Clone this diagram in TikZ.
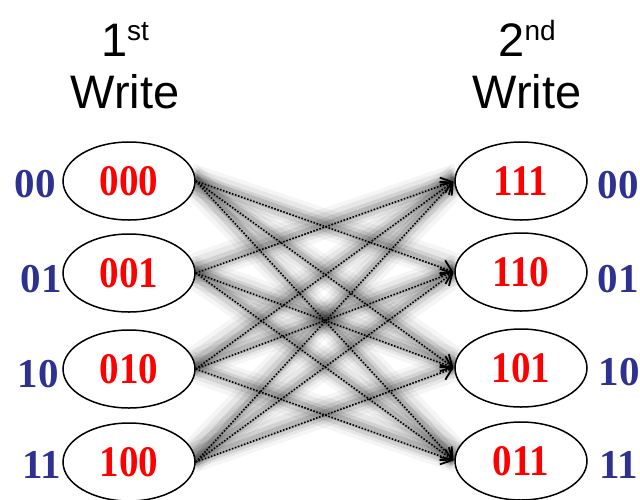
\documentclass[tikz,border=0pt]{standalone}
\usepackage{fontspec}
\setmainfont{Liberation Serif}
\newfontfamily\arialf{Liberation Sans}
\usetikzlibrary{arrows.meta,shapes.geometric}
\definecolor{codered}{RGB}{255,0,0}
\definecolor{datablue}{RGB}{46,49,146}
\newcommand{\tallred}[1]{\scalebox{1}[1.12]{#1}}
\tikzset{
  cell/.style={ellipse, draw=black, line width=1.5pt, fill=white, minimum width=132pt, minimum height=78pt, inner sep=0pt,
    text=codered, font=\fontsize{39}{40}\selectfont\bfseries},
  datalbl/.style={anchor=base, text=datablue, font=\fontsize{41}{42}\selectfont\bfseries, inner sep=0pt},
  title/.style={anchor=base, font=\arialf\fontsize{47}{50}\selectfont, inner sep=0pt},
  link/.style={line width=1.6pt, dash pattern=on 1.6pt off 1.6pt, black, -{Straight Barb[length=10pt,width=16pt,line width=1.8pt]}, shorten >=1pt},
  shadeA/.style={line width=30pt, black, opacity=0.04},
  shadeB/.style={line width=22pt, black, opacity=0.06},
  shadeC/.style={line width=14pt, black, opacity=0.09},
  shadeD/.style={line width=7pt, black, opacity=0.12}
}
\begin{document}
\begin{tikzpicture}[x=1pt,y=-1pt]
\useasboundingbox (0,0) rectangle (640,499);
\clip (0,0) rectangle (640,499);
% coordinates for the ellipses
\coordinate (pl1) at (129,181);
\coordinate (pl2) at (129,273);
\coordinate (pl3) at (129,369);
\coordinate (pl4) at (129,462);
\coordinate (pr1) at (521,181);
\coordinate (pr2) at (521,272);
\coordinate (pr3) at (521,368);
\coordinate (pr4) at (521,461);
% invisible nodes for shadow anchors
\foreach \k in {1,2,3,4}{
  \node[ellipse, minimum width=132pt, minimum height=78pt, inner sep=0pt] (sl\k) at (pl\k) {};
  \node[ellipse, minimum width=132pt, minimum height=78pt, inner sep=0pt] (sr\k) at (pr\k) {};
}
% shadows
\foreach \i/\j in {1/2,1/3,1/4,2/1,2/3,2/4,3/1,3/2,3/4,4/1,4/2,4/3}{
  \draw[shadeA] ([xshift=-6pt,yshift=3pt]sl\i.east) -- ([xshift=4pt,yshift=3pt]sr\j.west);
  \draw[shadeB] ([xshift=-5pt,yshift=3pt]sl\i.east) -- ([xshift=3pt,yshift=3pt]sr\j.west);
  \draw[shadeC] ([xshift=-3pt,yshift=2pt]sl\i.east) -- ([xshift=1pt,yshift=2pt]sr\j.west);
  \draw[shadeD] ([yshift=2pt]sl\i.east) -- ([yshift=2pt]sr\j.west);
}
% titles
\node[title] (t1a) at (125,56) {1\raisebox{16pt}{\fontsize{28}{28}\selectfont st}};
\node[title] (t1b) at (125,108) {Write};
\node[title] (t2a) at (527,56) {2\raisebox{16pt}{\fontsize{28}{28}\selectfont nd}};
\node[title] (t2b) at (527,108) {Write};
% ellipses
\node[cell] (l1) at (pl1) {\tallred{000}};
\node[cell] (l2) at (pl2) {\tallred{001}};
\node[cell] (l3) at (pl3) {\tallred{010}};
\node[cell] (l4) at (pl4) {\tallred{100}};
\node[cell] (r1) at (pr1) {\tallred{111}};
\node[cell] (r2) at (pr2) {\tallred{110}};
\node[cell] (r3) at (pr3) {\tallred{101}};
\node[cell] (r4) at (pr4) {\tallred{011}};
% data labels
\node[datalbl] (dl1) at (35,197) {00};
\node[datalbl] (dl2) at (41,292) {01};
\node[datalbl] (dl3) at (38,387) {10};
\node[datalbl] (dl4) at (42,478) {11};
\node[datalbl] (dr1) at (618,198) {00};
\node[datalbl] (dr2) at (618,292) {01};
\node[datalbl] (dr3) at (619,385) {10};
\node[datalbl] (dr4) at (619,478) {11};
% connectors
\foreach \i/\j in {1/2,1/3,1/4,2/1,2/3,2/4,3/1,3/2,3/4,4/1,4/2,4/3}{
  \draw[link] (l\i.east) -- (r\j.west);
}
\end{tikzpicture}
\end{document}
